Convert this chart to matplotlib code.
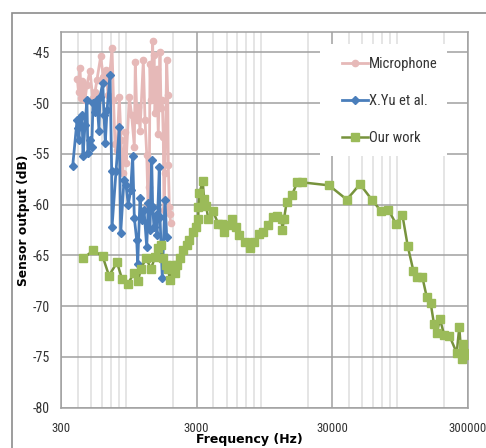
import matplotlib
matplotlib.use('Agg')
import matplotlib.pyplot as plt
from matplotlib import font_manager
from matplotlib.patches import Rectangle
from matplotlib.ticker import FixedLocator, LogLocator, NullFormatter

# Microphone
mic_f = [396, 404, 414, 424, 432, 438, 451, 466, 491, 514, 535, 553, 589, 615, 644, 667,
         714, 732, 751, 777, 808, 832, 855, 895, 906, 958, 997, 1043, 1060, 1091, 1116, 1149,
         1215, 1251, 1288, 1316, 1345, 1361, 1384, 1424, 1439, 1456, 1482, 1525, 1567, 1613,
         1642, 1677, 1706, 1726, 1756, 1808, 1840, 1858, 1890, 1911, 1929]
mic_db = [-47.6, -48.9, -46.5, -49.5, -47.8, -48.4, -49.7, -48.2, -46.8, -49.5, -48.9, -47.7,
          -45.4, -47.4, -46.7, -49.2, -44.6, -49.7, -54.0, -54.6, -49.4, -53.6, -56.9, -52.8,
          -55.9, -49.4, -51.2, -54.3, -46.0, -51.7, -50.4, -52.7, -45.8, -51.7, -55.1, -60.0,
          -58.3, -46.1, -49.7, -43.9, -49.4, -45.3, -51.0, -46.6, -53.0, -45.0, -50.5, -49.7,
          -53.3, -60.5, -56.9, -45.8, -49.2, -56.1, -60.2, -60.9, -61.8]

# X.Yu et al.
yu_f = [366, 394, 401, 407, 414, 429, 436, 451, 466, 474, 491, 506, 517, 535, 553, 572,
        582, 610, 623, 637, 656, 690, 710, 714, 764, 808, 827, 875, 906, 941, 980, 1014,
        1043, 1086, 1105, 1149, 1183, 1230, 1288, 1322, 1361, 1401, 1424, 1456, 1507, 1533,
        1594, 1613, 1677, 1756, 1808]
yu_db = [-56.2, -51.7, -52.5, -53.6, -51.5, -51.2, -55.2, -52.2, -49.7, -54.9, -53.6, -54.3,
         -50.0, -50.9, -49.7, -52.7, -49.4, -48.0, -51.2, -53.9, -50.7, -47.2, -56.7, -62.2,
         -56.7, -52.4, -62.8, -57.6, -58.1, -60.0, -58.6, -55.2, -61.3, -63.5, -65.8, -59.3,
         -61.5, -60.5, -64.2, -59.8, -62.5, -55.6, -60.2, -62.2, -61.0, -63.0, -56.3, -61.2,
         -67.2, -59.5, -63.2]

# Our work
our_f = [438, 519, 609, 678, 777, 846, 937, 1038, 1110, 1168, 1272, 1385, 1481, 1559, 1640,
         1697, 1787, 1849, 1911, 2013, 2082, 2154, 2265, 2384, 2541, 2654, 2841, 2959, 3093,
         3100, 3147, 3334, 3408, 3525, 3667, 3952, 4348, 4606, 4813, 5122, 5454, 5870, 6210,
         6840, 7449, 7968, 8719, 9336, 10050, 10945, 11835, 12760, 12900, 13270, 13900, 15130,
         16640, 17925, 28500, 38550, 48330, 58920, 68610, 78180, 88950, 99120, 108660, 119430,
         127980, 139020, 150000, 160380, 169860, 177870, 187980, 201420, 220350, 249540,
         260700, 271700, 279300, 287800, 295900]
our_db = [-65.3, -64.5, -65.1, -67.0, -65.7, -67.3, -67.8, -66.7, -67.5, -66.3, -65.3, -66.3,
          -65.2, -64.3, -64.0, -65.3, -65.9, -66.3, -67.4, -65.9, -66.7, -65.9, -65.3, -64.5,
          -64.0, -63.5, -62.7, -62.2, -61.4, -60.2, -58.9, -57.7, -59.4, -60.1, -61.4, -60.6,
          -61.9, -61.9, -62.7, -62.0, -61.4, -62.2, -63.0, -63.7, -64.3, -63.7, -62.9, -62.7,
          -62.0, -61.2, -61.1, -61.4, -62.5, -61.4, -59.7, -59.1, -57.8, -57.8, -58.1, -59.5,
          -58.0, -59.5, -60.6, -60.5, -61.9, -61.0, -64.1, -66.5, -67.1, -67.1, -69.1, -69.7,
          -71.8, -72.6, -71.3, -72.8, -72.9, -74.6, -72.1, -75.2, -73.7, -74.6, -74.8]

yticks = [-80, -75, -70, -65, -60, -55, -50, -45]
xticks = [300, 3000, 30000, 300000]

# narrow font if there is one (Excel used Calibri)
installed = {f.name for f in font_manager.fontManager.ttflist}
narrow = None
for name in ['Liberation Sans Narrow', 'DejaVu Sans Condensed', 'Roboto Condensed']:
    if name in installed:
        narrow = name
        break
if narrow:
    plt.rcParams['font.family'] = [narrow, 'DejaVu Sans']
    tick_fs, leg_fs = 10, 10.5
else:
    plt.rcParams['font.family'] = ['Liberation Sans', 'DejaVu Sans']
    tick_fs, leg_fs = 9, 9.5

fig = plt.figure(figsize=(4.86, 4.48), dpi=100)
ax = fig.add_axes([0.1255, 0.090, 0.8365, 0.8385])

# outer chart border
fig.add_artist(Rectangle((12 / 486, -0.2), 1.2, 0.2 + 1 - 13 / 448, transform=fig.transFigure,
                         fill=False, edgecolor='#8c8c8c', linewidth=1.2))

ax.plot(mic_f, mic_db, color='#E6B9B8', marker='o', markersize=4.5, linewidth=2,
        label='Microphone', zorder=3)
ax.plot(yu_f, yu_db, color='#4A7EBB', marker='D', markersize=4, linewidth=2,
        label='X.Yu et al.', zorder=4)
ax.plot(our_f, our_db, color='#77933C', marker='s', markersize=6, linewidth=1.8,
        markerfacecolor='#9BBB59', markeredgecolor='#9BBB59', label='Our work', zorder=5)

ax.set_xscale('log')
ax.set_xlim(300, 300000)
ax.set_ylim(-80, -43.0)
ax.xaxis.set_major_locator(FixedLocator(xticks))
ax.set_xticklabels([str(v) for v in xticks])
ax.xaxis.set_minor_locator(LogLocator(base=10, subs=[0.2, 0.3, 0.4, 0.5, 0.6, 0.7, 0.8, 0.9], numticks=20))
ax.xaxis.set_minor_formatter(NullFormatter())
ax.set_yticks(yticks)
ax.set_yticklabels([str(v) for v in yticks])

ax.grid(True, which='major', color='#a0a0a0', linewidth=1.1, zorder=0)
ax.grid(True, which='minor', axis='x', color='#dedede', linewidth=1.1, zorder=0)
ax.set_axisbelow(True)
ax.tick_params(which='both', length=0, labelsize=tick_fs, colors='#333333')
ax.tick_params(axis='y', pad=8)
ax.tick_params(axis='x', pad=10, labelsize=tick_fs - 0.7)
for s in ax.spines.values():
    s.set_color('#a0a0a0')
    s.set_linewidth(1.1)

ax.set_ylabel('Sensor output (dB)', fontsize=8.8, fontweight='bold', family=['DejaVu Sans'])
ax.yaxis.set_label_coords(-0.076, 0.5)
ax.set_xlabel('Frequency (Hz)', fontsize=9, fontweight='bold', family=['DejaVu Sans'])
ax.xaxis.set_label_coords(0.4625, -0.067)

# white legend area
ax.add_patch(Rectangle((0.637, 0.670), 0.3124, 0.298, transform=ax.transAxes,
                       facecolor='white', edgecolor='none', zorder=2))
leg = ax.legend(loc='upper left', bbox_to_anchor=(0.656, 0.973), frameon=False,
                labelspacing=1.6, handlelength=1.75, handletextpad=0.1,
                borderpad=0.5, fontsize=leg_fs)
for t in leg.get_texts():
    t.set_color('#333333')

fig.savefig('out.png', dpi=100)
